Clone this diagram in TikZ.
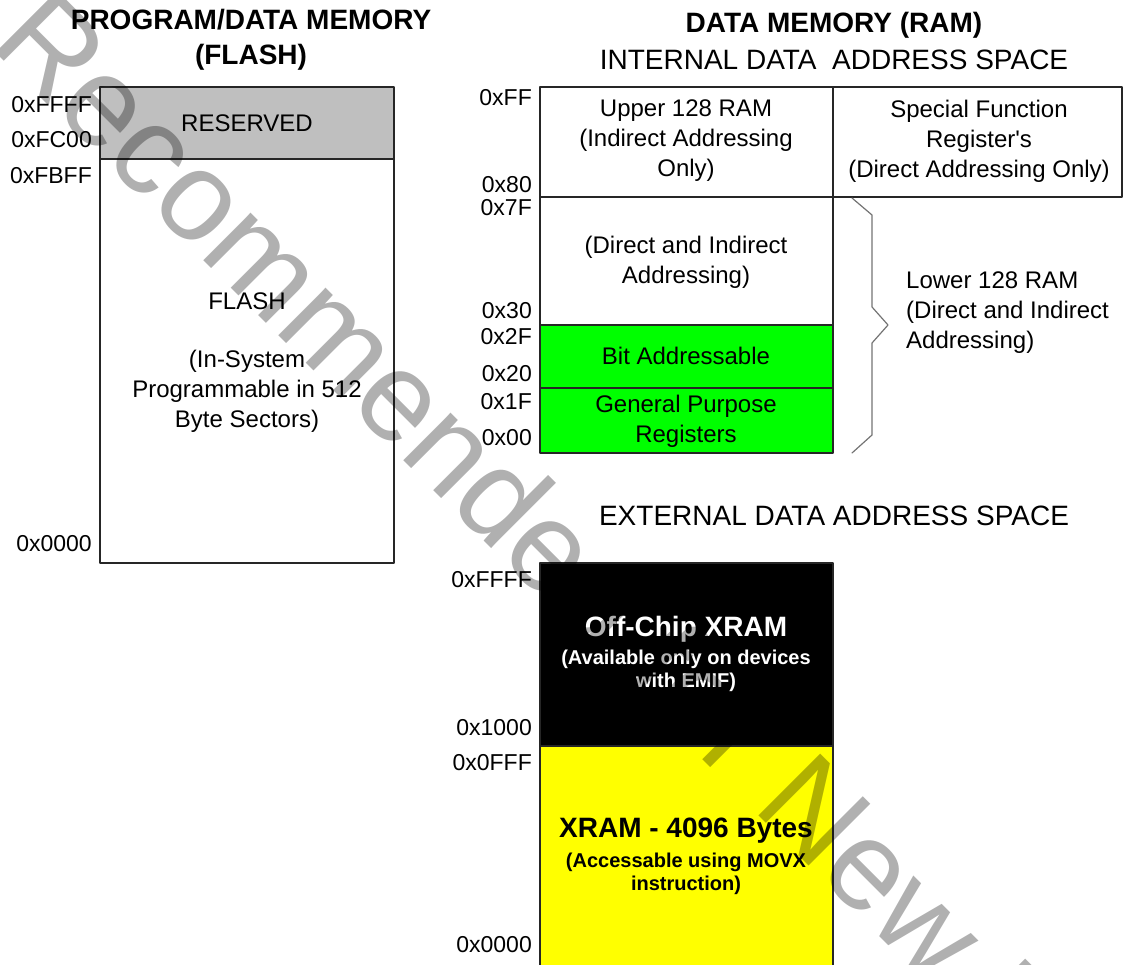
\documentclass[tikz,border=0pt]{standalone}
\usepackage{fontspec}
\setmainfont{Liberation Sans}
\usepackage{tikz}
\usetikzlibrary{positioning}
\definecolor{reservedgray}{rgb}{0.75,0.75,0.75}
\definecolor{bitgreen}{rgb}{0,1,0}
\definecolor{xramyellow}{rgb}{1,1,0}
\definecolor{bracegray}{rgb}{0.45,0.45,0.45}
\definecolor{markgray}{rgb}{0.69,0.69,0.69}
\definecolor{boxline}{rgb}{0.15,0.15,0.15}
\tikzset{
  addr/.style={anchor=east,inner sep=0pt,font=\fontsize{23}{23}\selectfont},
  cell/.style={align=center,inner sep=0pt,font=\fontsize{24}{30}\selectfont},
  head/.style={align=center,inner sep=0pt,font=\fontsize{28}{35}\selectfont\bfseries},
  subhead/.style={inner sep=0pt,font=\fontsize{28}{28}\selectfont},
  xhead/.style={inner sep=0pt,font=\fontsize{28}{28}\selectfont\bfseries},
  xsub/.style={align=center,inner sep=0pt,font=\fontsize{20}{23.5}\selectfont\bfseries},
  memline/.style={line width=1.8pt,color=boxline}
}
\begin{document}
\begin{tikzpicture}[line cap=round,line join=round,x=1pt,y=-1pt]
\useasboundingbox (0,0) rectangle (1124,965);
\fill[color=reservedgray] (100,87) rectangle (394,159);
\fill[color=bitgreen] (540,325) rectangle (833,453);
\fill[color=black] (540,563) rectangle (833,746);
\fill[color=xramyellow] (540,746) rectangle (833,968);
\draw[memline] (100,87) rectangle (394,563);
\draw[memline] (100,159) -- (394,159);
\draw[memline] (540,87) rectangle (1122,197);
\draw[memline] (833,87) -- (833,197);
\draw[memline] (540,197) rectangle (833,453);
\draw[memline] (540,325) -- (833,325);
\draw[memline] (540,388) -- (833,388);
\draw[memline] (540,563) rectangle (833,970);
\draw[memline] (540,746) -- (833,746);
\draw[line width=1.2pt,color=bracegray] (852,198) -- (872,215) -- (872,307) -- (888,325) -- (872,343) -- (872,435) -- (852,453);
\node[head] (progtitle) at (251,40) {PROGRAM/DATA MEMORY\\(FLASH)};
\node[head] (ramtitle) at (834,25) {DATA MEMORY (RAM)};
\node[subhead] (inttitle) at (834,60) {INTERNAL DATA\ \ ADDRESS SPACE};
\node[subhead] (exttitle) at (834,516) {EXTERNAL DATA ADDRESS SPACE};
\node[cell] (reserved) at (247,123) {RESERVED};
\node[cell] (flash) at (247,301) {FLASH};
\node[cell] (isp) at (247,391) {(In-System\\Programmable in 512\\Byte Sectors)};
\node[cell] (upper) at (686,141) {Upper 128 RAM\\(Indirect Addressing\\Only)};
\node[cell] (sfr) at (979,141) {Special Function\\Register\textquotesingle s\\(Direct Addressing Only)};
\node[cell] (direct) at (686,262) {(Direct and Indirect\\Addressing)};
\node[cell] (bitaddr) at (686,356) {Bit Addressable};
\node[cell] (gpr) at (686,421) {General Purpose\\Registers};
\node[cell,align=left,anchor=west] (lower) at (906,313) {Lower 128 RAM\\(Direct and Indirect\\Addressing)};
\node[xhead,text=white] (offchip) at (686,629) {Off-Chip XRAM};
\node[xsub,text=white] (emif) at (686,671) {(Available only on devices\\with EMIF)};
\node[xhead] (xram) at (686,831) {XRAM - 4096 Bytes};
\node[xsub] (movx) at (686,874) {(Accessable using MOVX\\instruction)};
\foreach \lbl/\ypos in {FFFF/105,FC00/140,FBFF/176,0000/544}
\node[addr] (p\lbl) at (92,\ypos) {0x\lbl};
\foreach \lbl/\ypos in {FF/98,80/185,7F/208,30/311,2F/337,20/374,1F/402,00/438}
\node[addr] (i\lbl) at (532,\ypos) {0x\lbl};
\foreach \lbl/\ypos in {FFFF/580,1000/728,0FFF/763,0000/945}
\node[addr] (x\lbl) at (532,\ypos) {0x\lbl};
\begin{scope}[blend mode=multiply]
\node[anchor=base west,inner sep=0pt,rotate=-45,color=markgray,font=\fontsize{127}{127}\selectfont] (stamp) at (-12,45) {Recommended for New Designs};
\end{scope}
\end{tikzpicture}
\end{document}
